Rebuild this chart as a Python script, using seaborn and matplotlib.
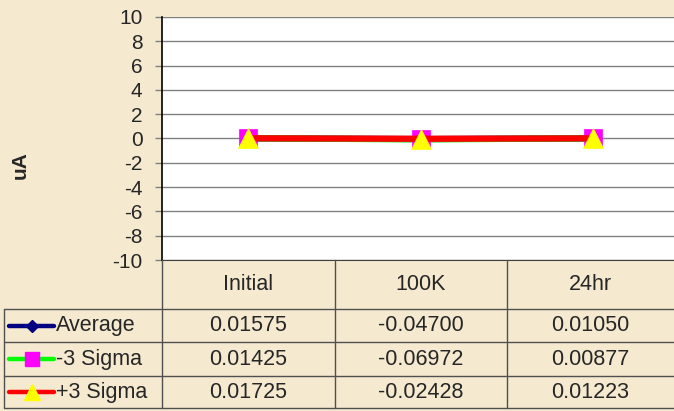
import matplotlib
matplotlib.use("Agg")
import matplotlib.pyplot as plt
from matplotlib.lines import Line2D
import seaborn as sns
import pandas as pd

categories = ["Initial", "100K", "24hr"]
series_names = ["Average", "-3 Sigma", "+3 Sigma"]
average = [0.01575, -0.04700, 0.01050]
minus_3_sigma = [0.01425, -0.06972, 0.00877]
plus_3_sigma = [0.01725, -0.02428, 0.01223]
y_ticks = list(range(-10, 11, 2))

values = [average, minus_3_sigma, plus_3_sigma]
styles = [
    dict(color="#000080", marker="D", mfc="#000080", mec="#000080", ms=8),
    dict(color="#00FF00", marker="s", mfc="#FF00FF", mec="#FF00FF", ms=13),
    dict(color="#FF0000", marker="^", mfc="#FFFF00", mec="#FFFF00", ms=15),
]

rows = []
for name, vals in zip(series_names, values):
    for i, (cat, v) in enumerate(zip(categories, vals)):
        rows.append({"series": name, "pos": i, "category": cat, "value": v})
df = pd.DataFrame(rows)

sns.set_style("white")
plt.rcParams["font.family"] = ["Liberation Sans", "DejaVu Sans"]

W, H = 674, 411
bg = "#F5EAD0"
fs = 15.5
fig = plt.figure(figsize=(W / 100, H / 100), dpi=100, facecolor=bg)

def fx(px):
    return px / W

def fy(py):
    return 1 - py / H

left, right, top, bottom = 162, 674, 17, 260
ax = fig.add_axes([fx(left), fy(bottom), fx(right) - fx(left), fy(top) - fy(bottom)])
ax.set_facecolor("white")

for name, st in zip(series_names, styles):
    sub = df[df["series"] == name]
    sns.lineplot(data=sub, x="pos", y="value", ax=ax, color=st["color"], lw=4.5,
                 marker=st["marker"], markersize=st["ms"], markerfacecolor=st["mfc"],
                 markeredgecolor=st["mec"], markeredgewidth=0.5, legend=False)

ax.set_ylim(-10, 10)
ax.set_yticks(y_ticks)
ax.set_yticklabels([str(t) for t in y_ticks], fontsize=15)
ax.set_xlim(-0.5, -0.5 + (right - left) / 172.5)
ax.set_xticks([])
ax.set_xlabel("")
ax.set_ylabel("uA", fontsize=15, fontweight="bold")
ax.yaxis.label.set_verticalalignment("center")
ax.yaxis.set_label_coords((20 - left) / (right - left), (bottom - 165) / (bottom - top))
ax.yaxis.grid(True, color="#808080", lw=1)
ax.tick_params(axis="y", which="both", left=True, length=5, width=1, color="#808080", pad=9)
for side in ["top", "right"]:
    ax.spines[side].set_visible(False)
ax.spines["left"].set_color("black")
ax.spines["left"].set_linewidth(1.2)
ax.spines["bottom"].set_color("#404040")

# data table below the plot
lc = "#505050"
col_edges = [162, 335, 507, 674]
row_edges = [309, 342, 376, 408]
for x in col_edges[:3]:
    fig.add_artist(Line2D([fx(x), fx(x)], [fy(260), fy(row_edges[-1])], color=lc, lw=1))
fig.add_artist(Line2D([fx(4), fx(4)], [fy(row_edges[0]), fy(row_edges[-1])], color=lc, lw=1))
for y in row_edges:
    fig.add_artist(Line2D([fx(4), fx(674)], [fy(y), fy(y)], color=lc, lw=1))

for j, cat in enumerate(categories):
    cx = (col_edges[j] + col_edges[j + 1]) / 2
    fig.text(fx(cx), fy(284), cat, ha="center", va="center", fontsize=fs)

for i, (name, vals, st) in enumerate(zip(series_names, values, styles)):
    cy = (row_edges[i] + row_edges[i + 1]) / 2
    fig.add_artist(Line2D([fx(9), fx(54)], [fy(cy), fy(cy)], color=st["color"], lw=3.2,
                          solid_capstyle="round"))
    fig.add_artist(Line2D([fx(32)], [fy(cy)], marker=st["marker"], ms=st["ms"] * 0.8,
                          mfc=st["mfc"], mec=st["mec"], lw=0))
    fig.text(fx(56), fy(cy), name, ha="left", va="center", fontsize=fs)
    for j, v in enumerate(vals):
        cx = (col_edges[j] + col_edges[j + 1]) / 2
        fig.text(fx(cx), fy(cy), f"{v:.5f}", ha="center", va="center", fontsize=fs)

fig.savefig("out.png", dpi=100, facecolor=bg)
